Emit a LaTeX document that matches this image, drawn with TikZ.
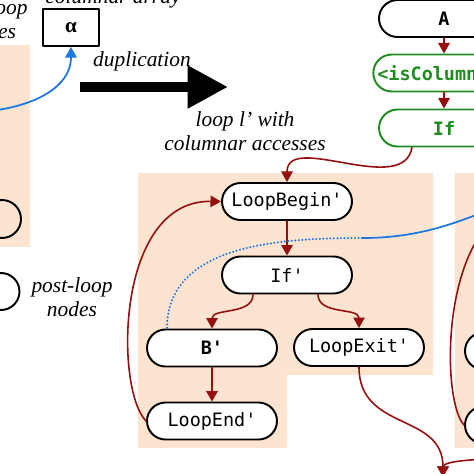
\documentclass[tikz,border=0pt]{standalone}
\usepackage{fontspec}
\setmainfont{Liberation Serif}
\setmonofont{DejaVu Sans Mono}
\usetikzlibrary{arrows.meta,calc}
\definecolor{peach}{RGB}{252,228,208}
\definecolor{dred}{RGB}{150,15,15}
\definecolor{grn}{RGB}{30,140,30}
\definecolor{accblue}{RGB}{30,120,225}
\begin{document}
\begin{tikzpicture}[x=.02cm, y=-.02cm, line join=round, line cap=round,
	box/.style={draw, line width=1.1pt, fill=white, rounded corners=.37cm, minimum width=2.6cm, minimum height=.74cm, inner xsep=2.3pt, inner ysep=0pt, font=\fontsize{10.5}{12}\selectfont\ttfamily},
	boldbox/.style={box, font=\fontsize{10.5}{12}\selectfont\ttfamily\bfseries},
	cond/.style={boldbox, draw=grn, text=grn},
	lbl/.style={font=\fontsize{12.2}{14}\selectfont\itshape, align=center, inner sep=0pt},
	flow/.style={dred, line width=.9pt, -{Triangle[length=6pt,width=6.5pt]}},
	colacc/.style={accblue, line width=1pt}]
	\useasboundingbox (0,0) rectangle (474,474);
	\clip (0,0) rectangle (474,474);
	\fill[peach] (-20,45) rectangle (30,247);
	\fill[peach] (138,173) -| (433,375) -| (287,448) -| (138,173) -- cycle;
	\fill[peach] (455,173) rectangle (530,448);
	\node[lbl] (preL) at (-9,19) {pre-loop\\nodes};
	\node[lbl, anchor=base] (arrL) at (113,3) {columnar array};
	\node[draw, line width=1.1pt, minimum width=1.12cm, minimum height=.74cm, font=\fontsize{12}{14}\selectfont\bfseries] (alpha) at (71,27.5) {α};
	\node[circle, draw, line width=1.1pt, minimum size=.76cm] (loopN) at (2,219) {};
	\node[circle, draw, line width=1.1pt, minimum size=.74cm] (postN) at (1,291.5) {};
	\node[lbl] (postL) at (72,297) {post-loop\\nodes};
	\node[lbl, anchor=base] (dupL) at (142,66) {duplication};
	\node[lbl] (loopL) at (245,131) {loop l' with\\columnar accesses};
	\coordinate (dupA) at (80,87); \coordinate (dupB) at (228,87);
	\draw[line width=5.7pt, line cap=butt, -{Triangle[length=23pt,width=23pt]}] (dupA) -- (dupB);
	\node[boldbox] (A) at (444,18.5) {A};
	\node[cond] (isC) at (444,73) {<isColumnar>};
	\node[cond] (If) at (444,128) {If};
	\node[box] (lbP) at (287,201.5) {LoopBegin'};
	\node[box] (ifP) at (287,275) {If'};
	\node[boldbox] (bP) at (212,348) {B'};
	\node[box] (lxP) at (359,347.5) {LoopExit'};
	\node[box] (leP) at (212,421) {LoopEnd'};
	\node[box] (lbR) at (604,201) {};
	\node[box] (bR) at (530,351) {};
	\node[box] (leR) at (530,425) {};
	\coordinate (post) at (443,477); \coordinate (exitR) at (540,457);
	\coordinate (srcL) at (-30,112); \coordinate (bend) at (362,238); \coordinate (accR) at (545,188);
	\foreach \a/\b in {A/isC, isC/If, lbP/ifP, bP/leP} \draw[flow] (\a) -- (\b);
	\draw[flow] ($(If.south)+(-32,0)$) to[out=-100,in=90] (lbP.north);
	\draw[flow] ($(ifP.south)+(-34,0)$) to[out=-90,in=90] (bP.north);
	\draw[flow] ($(ifP.south)+(31,0)$) to[out=-90,in=90] (lxP.north);
	\draw[flow] (leP.west) .. controls (115,390) and (115,200) .. (lbP.west);
	\draw[flow] (leR.west) .. controls (440,400) and (440,215) .. (lbR.west);
	\draw[flow] (lxP.south) to[out=-90,in=90,looseness=1.2] (post);
	\draw[flow] (exitR) to[out=185,in=90,looseness=.5] (post);
	\draw[colacc, -{Triangle[length=6pt,width=6.5pt]}] (srcL) to[out=0,in=-90] (alpha.south);
	\draw[colacc] (bend) to[out=0,in=200] (accR);
	\draw[colacc, line width=1.3pt, dash pattern=on 0pt off 2pt] (bend) to[out=180,in=90] ($(bP.north)+(-45,0)$);
\end{tikzpicture}
\end{document}
